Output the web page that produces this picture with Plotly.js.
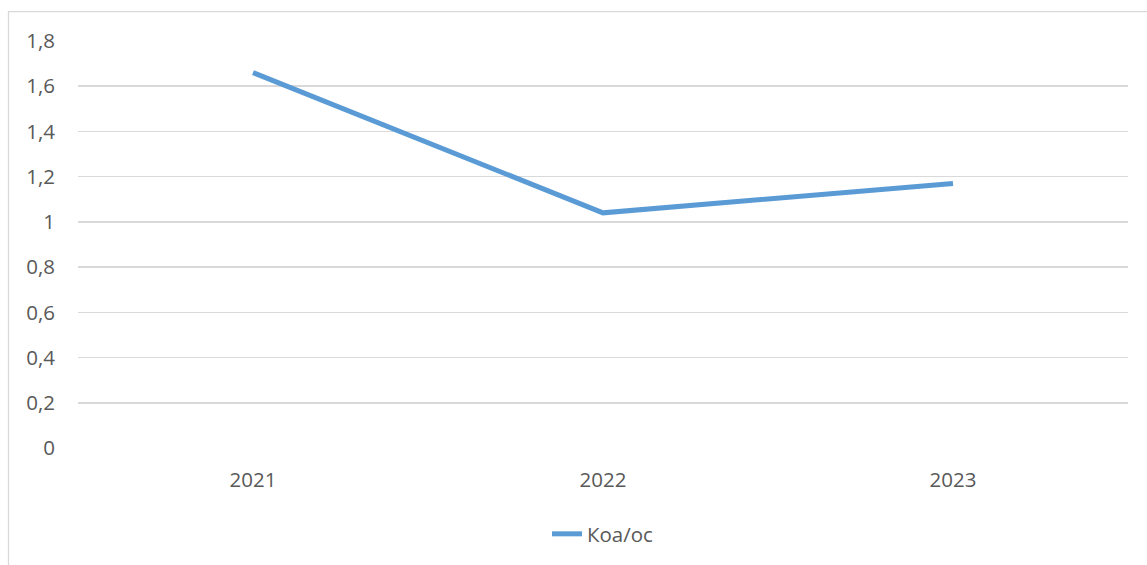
<!DOCTYPE html>
<html>
<head>
<meta charset="utf-8">
<script src="https://cdn.plot.ly/plotly-3.0.1.min.js"></script>
<style>
html,body{margin:0;padding:0;background:#fff;}
#chart{width:1147px;height:565px;}
</style>
</head>
<body>
<div id="chart"></div>
<script>
const categories = ['2021', '2022', '2023'];
const seriesName = 'Коа/ос';
const values = [1.66, 1.04, 1.17];
const yTicks = [0, 0.2, 0.4, 0.6, 0.8, 1, 1.2, 1.4, 1.6, 1.8];
const yTickLabels = ['0', '0,2', '0,4', '0,6', '0,8', '1', '1,2', '1,4', '1,6', '1,8'];

const W = 1147, H = 565;
const L = 78, R = 19, T = 41, B = 116;
const pw = W - L - R, ph = H - T - B;
const px = x => (x - L) / pw;
const py = y => (H - B - y) / ph;

const font = {family: 'Open Sans, sans-serif', size: 20.5, color: '#595959'};

Plotly.newPlot('chart', [{
  x: categories,
  y: values,
  name: seriesName,
  type: 'scatter',
  mode: 'lines',
  line: {color: '#5b9bd5', width: 5},
  showlegend: true
}], {
  width: W, height: H,
  margin: {l: L, r: R, t: T, b: B, pad: 0},
  paper_bgcolor: '#fff', plot_bgcolor: '#fff',
  font: font,
  xaxis: {
    type: 'category',
    range: [-0.5, 2.5],
    showgrid: false, zeroline: false, showline: false,
    ticks: '', ticklabelstandoff: 17,
    tickfont: font, fixedrange: true
  },
  yaxis: {
    range: [0, 1.8],
    tickvals: yTicks, ticktext: yTickLabels,
    showgrid: true, gridcolor: '#d9d9d9', gridwidth: 1.5,
    zeroline: false, showline: false,
    ticks: '', ticklabelstandoff: 22,
    tickfont: font, fixedrange: true
  },
  showlegend: true,
  legend: {
    orientation: 'h', x: 0.5, xanchor: 'center',
    y: py(534), yanchor: 'middle',
    font: font, bgcolor: 'rgba(0,0,0,0)'
  },
  shapes: [{
    type: 'rect', xref: 'paper', yref: 'paper',
    x0: px(8.5), x1: px(1200), y0: py(11.5), y1: py(620),
    line: {color: '#d9d9d9', width: 1.3}, fillcolor: 'rgba(0,0,0,0)',
    layer: 'below'
  }]
}, {displayModeBar: false, staticPlot: true});
</script>
</body>
</html>
